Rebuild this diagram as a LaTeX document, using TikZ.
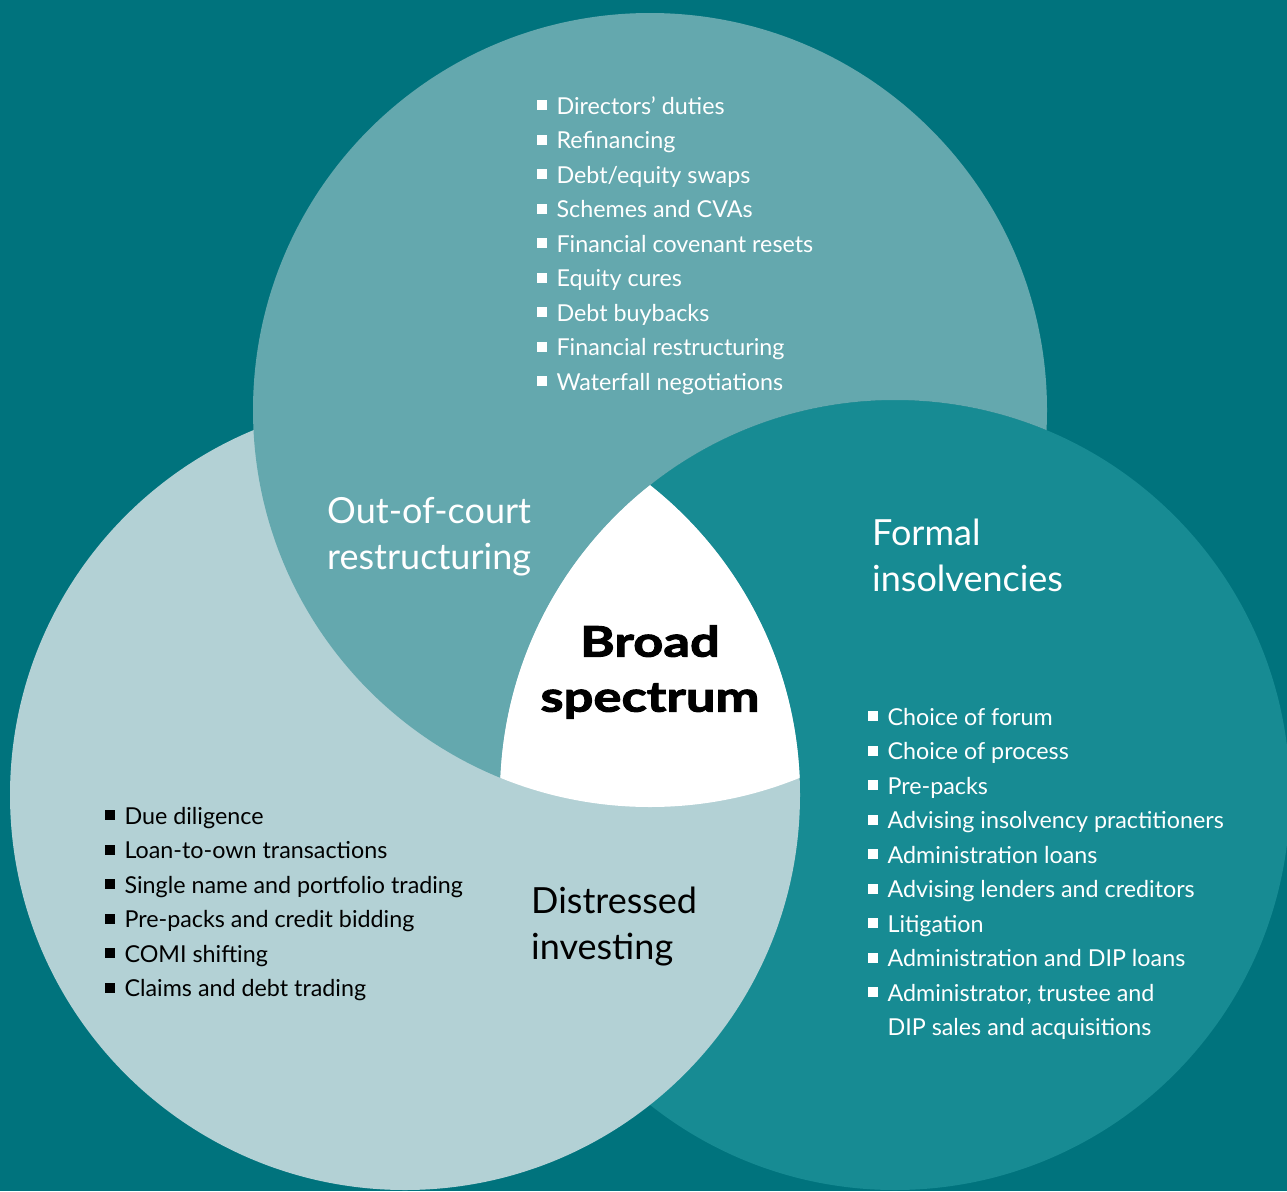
\documentclass[tikz,border=0pt]{standalone}
\usepackage{fontspec}
\setmainfont{Lato}
\newfontfamily\heavyfont{Lato}[UprightFont=* Bold, FakeBold=2.5, FakeStretch=1.25]
\definecolor{sea}{RGB}{0,115,125}
\definecolor{courtfill}{RGB}{100,168,174}
\definecolor{formalfill}{RGB}{23,139,147}
\definecolor{investfill}{RGB}{179,209,213}
\newcommand{\sqbullet}{\raisebox{0.17em}{\rule{0.43em}{0.43em}}\hspace{0.4em}}
\newcommand{\sqgap}{\hphantom{\sqbullet}}

\tikzset{
  items/.style={anchor=north west, align=left, inner sep=0pt,
    font=\fontsize{23.3}{34.5}\selectfont},
  heading/.style={anchor=north west, align=left, inner sep=0pt,
    font=\fontsize{36}{46}\selectfont},
}

\begin{document}
\begin{tikzpicture}[x=1pt,y=-1pt]
  \useasboundingbox (0,0) rectangle (1287,1191);
  \clip (0,0) rectangle (1287,1191);
  \fill[sea] (0,0) rectangle (1287,1191);
  % centres of the three circles
  \coordinate (court)  at (650,410);
  \coordinate (invest) at (405,795);
  \coordinate (formal) at (895,795);
  \fill[formalfill] (formal) circle (395pt);
  \fill[investfill] (invest) circle (395pt);
  % top circle, minus the part that lies in the right one
  \begin{scope}
    \clip (court) circle (397pt);
    \fill[courtfill,even odd rule] (court) circle (400pt) (formal) circle (395pt);
  \end{scope}
  \begin{scope}
    \clip (court) circle (397pt);
    \clip (invest) circle (395pt);
    \fill[white] (formal) circle (395pt);
  \end{scope}
  % headings
  \node[heading,white] (courttitle) at (327,497) {Out-of-court\\restructuring};
  \node[heading,white] (formaltitle) at (872,519) {Formal\\insolvencies};
  \node[heading,black] (investtitle) at (531,887) {Distressed\\investing};
  \node[align=center,inner sep=0pt,font=\fontsize{42}{55}\heavyfont]
    (broad) at (650,672) {Broad\\spectrum};
  % lists
  \node[items,white] (courtlist) at (537,96) {%
    \sqbullet Directors’ duties\\
    \sqbullet Refinancing\\
    \sqbullet Debt/equity swaps\\
    \sqbullet Schemes and CVAs\\
    \sqbullet Financial covenant resets\\
    \sqbullet Equity cures\\
    \sqbullet Debt buybacks\\
    \sqbullet Financial restructuring\\
    \sqbullet Waterfall negotiations};
  \node[items,white] (formallist) at (868,708) {%
    \sqbullet Choice of forum\\
    \sqbullet Choice of process\\
    \sqbullet Pre-packs\\
    \sqbullet Advising insolvency practitioners\\
    \sqbullet Administration loans\\
    \sqbullet Advising lenders and creditors\\
    \sqbullet Litigation\\
    \sqbullet Administration and DIP loans\\
    \sqbullet Administrator, trustee and\\
    \sqgap DIP sales and acquisitions};
  \node[items,black] (investlist) at (105,807) {%
    \sqbullet Due diligence\\
    \sqbullet Loan-to-own transactions\\
    \sqbullet Single name and portfolio trading\\
    \sqbullet Pre-packs and credit bidding\\
    \sqbullet COMI shifting\\
    \sqbullet Claims and debt trading};
\end{tikzpicture}
\end{document}
